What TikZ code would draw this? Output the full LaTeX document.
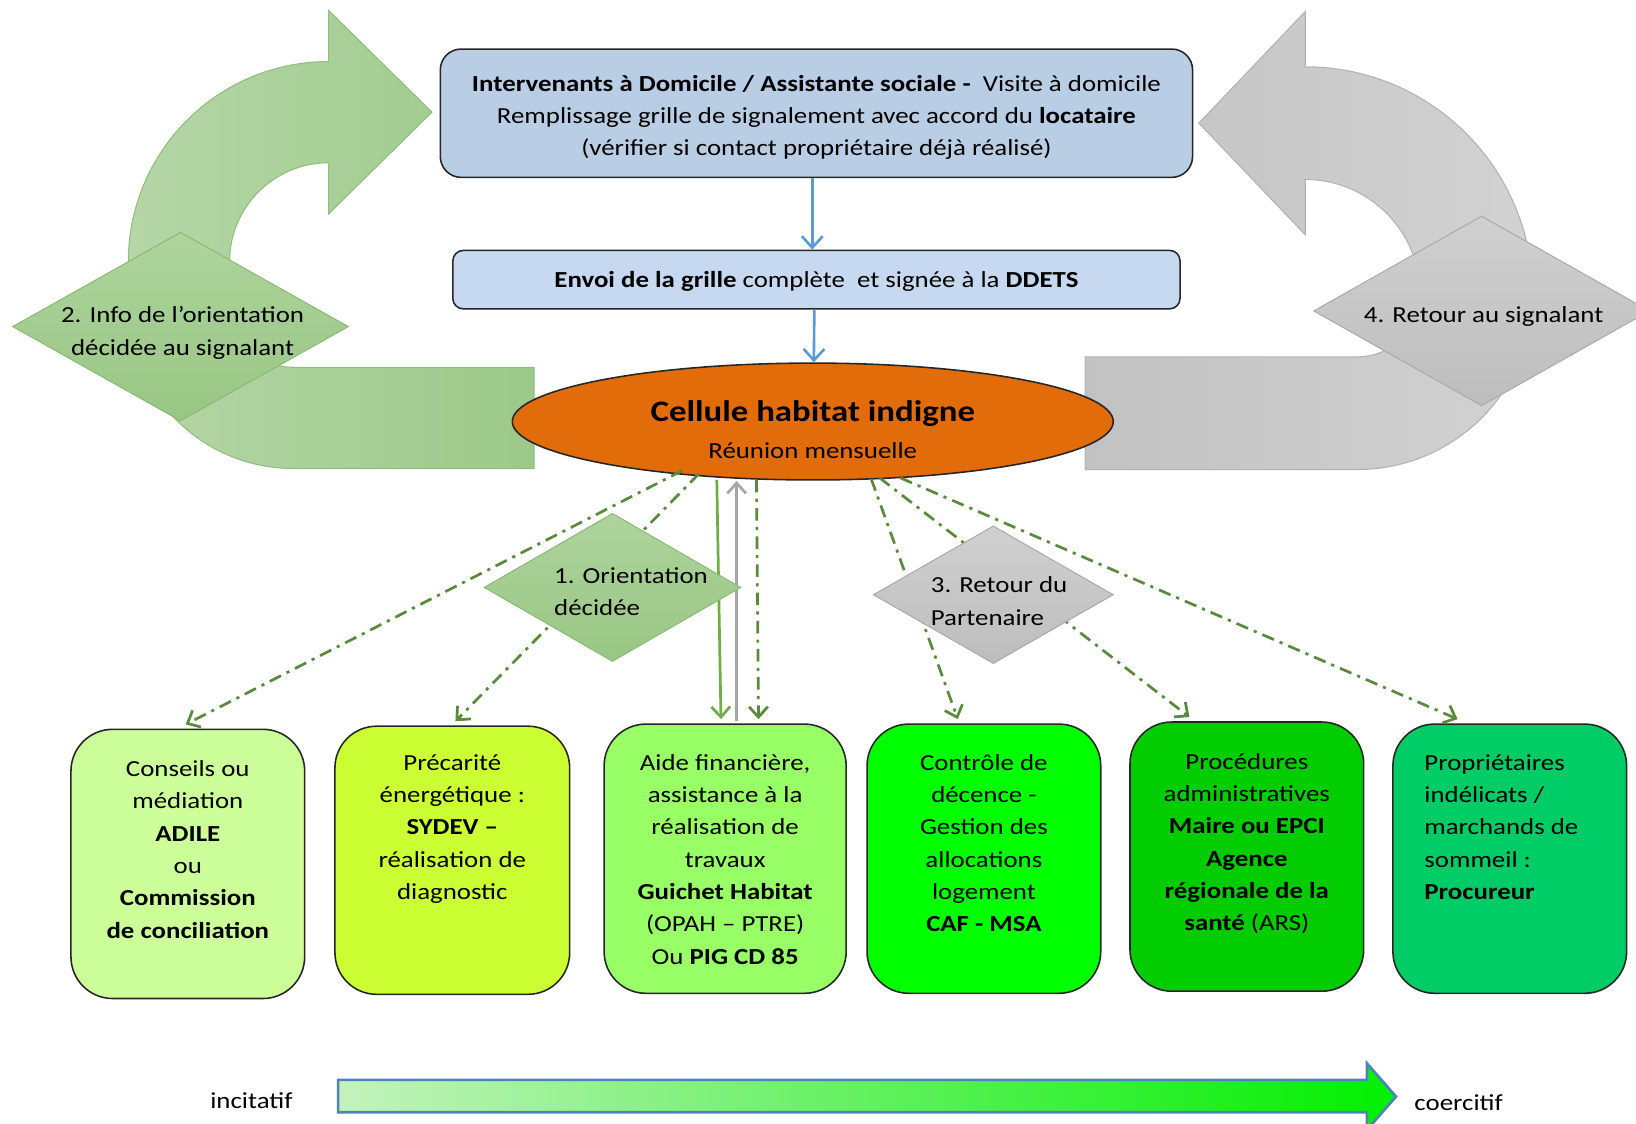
\documentclass[tikz,border=0pt]{standalone}
\usepackage{fontspec}
\setmainfont{Carlito}[FakeStretch=1.17]
\usetikzlibrary{shapes.geometric,arrows.meta,calc}
\definecolor{topfill}{HTML}{B9CDE5}
\definecolor{midfill}{HTML}{C6D9F1}
\definecolor{edgedark}{HTML}{262626}
\definecolor{cellfill}{HTML}{E36C0A}
\definecolor{bluearr}{HTML}{5B9BD5}
\definecolor{ddgreen}{HTML}{5A8A3C}
\definecolor{solgreen}{HTML}{70AD47}
\definecolor{solgray}{HTML}{A6A6A6}
\definecolor{garL}{HTML}{B5D6A6}
\definecolor{garR}{HTML}{9CC98A}
\definecolor{garE}{HTML}{8FBF7C}
\definecolor{grarL}{HTML}{C2C2C2}
\definecolor{grarR}{HTML}{D2D2D2}
\definecolor{grarE}{HTML}{B2B2B2}
\definecolor{dgT}{HTML}{AED49C}
\definecolor{dgB}{HTML}{98C684}
\definecolor{dgE}{HTML}{8CBA77}
\definecolor{dyT}{HTML}{D0D0D0}
\definecolor{dyB}{HTML}{BDBDBD}
\definecolor{dyE}{HTML}{ABABAB}
\definecolor{bA}{HTML}{CCFF99}
\definecolor{bB}{HTML}{CCFF33}
\definecolor{bC}{HTML}{99FF66}
\definecolor{bD}{HTML}{00FF00}
\definecolor{bE}{HTML}{00CC00}
\definecolor{bF}{HTML}{00CC66}
\definecolor{scaleL}{HTML}{C4F2BE}
\definecolor{scaleM}{HTML}{C8FFC8}
\definecolor{scaleR}{HTML}{00F000}
\definecolor{scaleE}{HTML}{4F81BD}
\newcommand{\firststrut}{\rule{0pt}{20pt}}
\begin{document}
\begin{tikzpicture}[x=1pt,y=1pt,
  font=\fontsize{22}{31}\selectfont,
  topbox/.style={draw=edgedark, line width=1.5pt, rounded corners=20pt, fill=topfill, align=center, inner sep=0pt},
  midbox/.style={draw=edgedark, line width=1.5pt, rounded corners=10pt, fill=midfill, align=center, inner sep=0pt},
  cellell/.style={ellipse, draw=edgedark, line width=1.5pt, fill=cellfill, inner sep=0pt},
  bbox/.style={draw=edgedark, line width=1.5pt, rounded corners=40pt, minimum width=224pt, minimum height=258pt, inner sep=0pt},
  btext/.style={anchor=north, align=center, inner sep=0pt},
  greendiam/.style={diamond, draw=dgE, line width=1pt, top color=dgT, bottom color=dgB, inner sep=0pt},
  graydiam/.style={diamond, draw=dyE, line width=1pt, top color=dyT, bottom color=dyB, inner sep=0pt},
  flowarrow/.style={draw=bluearr, line width=2.5pt, -{Straight Barb[length=11pt,width=20pt]}},
  dashdotarrow/.style={draw=ddgreen, line width=2.6pt, dash pattern=on 12pt off 6pt on 3pt off 6pt, -{Straight Barb[length=10pt,width=18pt]}},
  solidarrow/.style={line width=2.6pt, -{Straight Barb[length=10pt,width=18pt]}},
]
\useasboundingbox (0,0) rectangle (1568,-1077);

% --- U-turn arrows (background)
\path[draw=garE, line width=1pt, left color=garL, right color=garR]
  (512,-352) -- (281,-352) arc[start angle=270, end angle=180, radius=61]
  -- (220,-251) arc[start angle=180, end angle=90, radius=95]
  -- (315,-205) -- (414,-107.5) -- (315,-10) -- (315,-59)
  arc[start angle=90, end angle=180, radius=192]
  -- (123,-291) arc[start angle=180, end angle=270, radius=158]
  -- (512,-449) -- cycle;
\path[draw=grarE, line width=1pt, left color=grarL, right color=grarR]
  (1040,-342) -- (1301,-342) arc[start angle=270, end angle=360, radius=60]
  arc[start angle=0, end angle=90, radius=110]
  -- (1251,-225) -- (1149,-118) -- (1251,-11) -- (1251,-64)
  arc[start angle=90, end angle=0, radius=218]
  arc[start angle=0, end angle=-90, radius=168]
  -- (1040,-450) -- cycle;

% --- side diamonds
\node[greendiam, minimum width=322pt, minimum height=181pt] (info) at (173,-313) {};
\node[align=center, inner sep=0pt] (infotxt) at (175,-319) {2. Info de l’orientation\\décidée au signalant};
\node[graydiam, minimum width=322pt, minimum height=182pt] (retsig) at (1420,-298) {};
\node[inner sep=0pt] (retsigtxt) at (1422,-303) {4. Retour au signalant};

% --- top boxes
\node[topbox, minimum width=721pt, minimum height=123pt] (visite) at (782.5,-108.5) {};
\node[align=center, inner sep=0pt] (visitetxt) at (782.5,-112.5)
  {\textbf{Intervenants à Domicile / Assistante sociale -}\ \ Visite à domicile\\
   Remplissage grille de signalement avec accord du \textbf{locataire}\\
   (vérifier si contact propriétaire déjà réalisé)};
\node[midbox, minimum width=697pt, minimum height=56pt] (envoi) at (782.5,-268) {};
\node[inner sep=0pt] (envoitxt) at (782.5,-270)
  {\textbf{Envoi de la grille} complète\ \ et signée à la \textbf{DDETS}};

% --- bottom boxes
\node[bbox, fill=bA] (adile) at (180,-828) {};
\node[bbox, fill=bB, minimum width=225pt, minimum height=257pt] (sydev) at (433.5,-824.5) {};
\node[bbox, fill=bC, minimum width=232pt] (guichet) at (695,-823) {};
\node[bbox, fill=bD] (caf) at (943,-823) {};
\node[bbox, fill=bE] (maire) at (1195,-821) {};
\node[bbox, fill=bF] (procureur) at (1447,-823) {};

% --- dash-dot and solid connectors (below diamonds 1 and 3)
\node[cellell, minimum width=576pt, minimum height=112pt] (cell) at (779,-404) {};
\draw[dashdotarrow] ($(cell.center)+(-125,-47)$) -- ($(adile.north)+(-2,4)$);
\draw[dashdotarrow] ($(cell.center)+(-109,-50)$) -- ($(sydev.north)+(3,4)$);
\draw[solidarrow, draw=solgreen] ($(cell.center)+(-92,-56)$) -- ($(guichet.north)+(-4,4)$);
\draw[solidarrow, draw=solgray] ($(guichet.north)+(11,2)$) -- ($(cell.center)+(-73,-57)$);
\draw[dashdotarrow] ($(cell.center)+(-54,-56)$) -- ($(guichet.north)+(32,4)$);
\draw[dashdotarrow] ($(cell.center)+(56,-55)$) -- ($(caf.north)+(-25,4)$);
\draw[dashdotarrow] ($(cell.center)+(64,-54)$) -- ($(maire.north)+(-55,4)$);
\draw[dashdotarrow] ($(cell.center)+(84,-54)$) -- ($(procureur.north)+(-50,4)$);

% --- flow arrows
\draw[flowarrow] ($(visite.south)+(-4,0)$) -- ($(envoi.north)+(-4,0)$);
\draw[flowarrow] ($(envoi.south)+(-2,0)$) -- ($(cell.north)+(1,0)$);

% --- cell text
\node[font=\fontsize{28.5}{34}\selectfont\bfseries, inner sep=0pt] (celltitle) at (779,-396) {Cellule habitat indigne};
\node[inner sep=0pt] (cellsub) at (779,-432) {Réunion mensuelle};

% --- middle diamonds
\node[greendiam, minimum width=246pt, minimum height=142pt] (orient) at (587,-563) {};
\node[anchor=north west, align=left, inner sep=0pt] (orienttxt) at (531,-539) {\firststrut 1. Orientation\\décidée};
\node[graydiam, minimum width=230pt, minimum height=132pt] (retpart) at (952,-570) {};
\node[anchor=north west, align=left, inner sep=0pt] (retparttxt) at (892,-548) {\firststrut 3. Retour du\\Partenaire};

% --- bottom box texts
\node[btext] (adiletxt) at (180,-724) {\firststrut Conseils ou\\médiation\\\textbf{ADILE}\\ou\\\textbf{Commission}\\\textbf{de conciliation}};
\node[btext] (sydevtxt) at (433.5,-718) {\firststrut Précarité\\énergétique :\\\textbf{SYDEV –}\\réalisation de\\diagnostic};
\node[btext] (guichettxt) at (695,-718) {\firststrut Aide financière,\\assistance à la\\réalisation de\\travaux\\\textbf{Guichet Habitat}\\(OPAH – PTRE)\\Ou \textbf{PIG CD 85}};
\node[btext] (caftxt) at (943,-718) {\firststrut Contrôle de\\décence -\\Gestion des\\allocations\\logement\\\textbf{CAF - MSA}};
\node[btext] (mairetxt) at (1195,-717) {\firststrut Procédures\\administratives\\\textbf{Maire ou EPCI}\\\textbf{Agence}\\\textbf{régionale de la}\\\textbf{santé} (ARS)};
\node[anchor=north west, align=left, inner sep=0pt] (procureurtxt) at (1365,-718) {\firststrut Propriétaires\\indélicats /\\marchands de\\sommeil :\\\textbf{Procureur}};

% --- bottom scale arrow
\node[inner sep=0pt] (incitatif) at (241,-1055) {incitatif};
\node[inner sep=0pt] (coercitif) at (1398,-1057) {coercitif};
\path[draw=scaleE, line width=2.5pt, left color=scaleL, middle color=scaleM, right color=scaleR]
  (324,-1035) -- (1310,-1035) -- (1310,-1019) -- (1338,-1051) -- (1310,-1083)
  -- (1310,-1066) -- (324,-1066) -- cycle;
\end{tikzpicture}
\end{document}
